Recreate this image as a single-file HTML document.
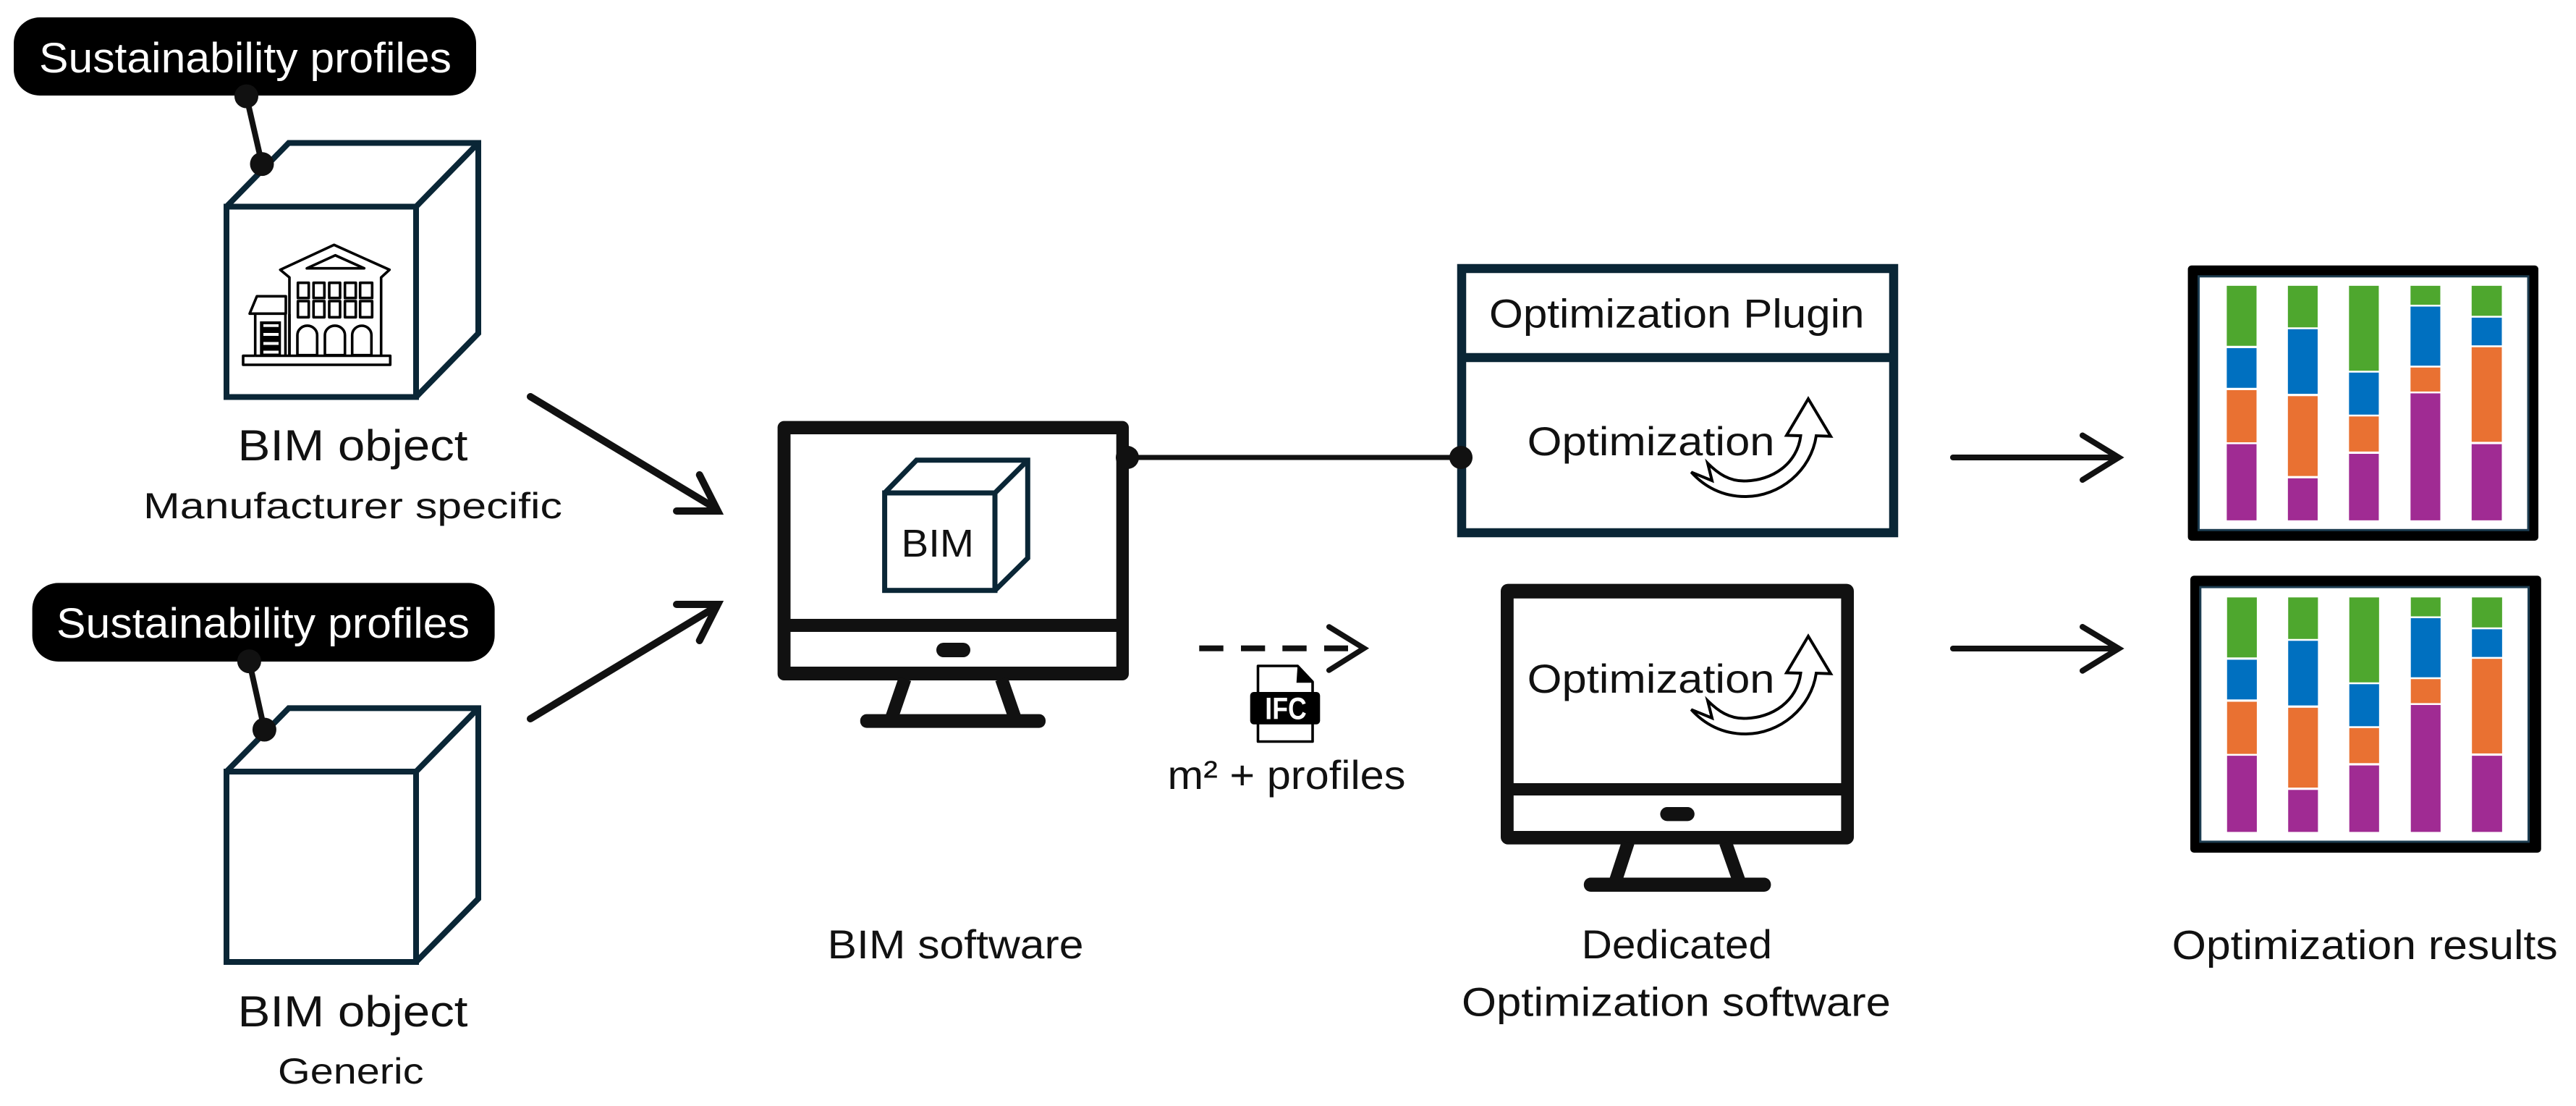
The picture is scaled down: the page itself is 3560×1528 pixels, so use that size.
<!DOCTYPE html>
<html lang="en">
<head>
<meta charset="utf-8">
<title>BIM optimization workflow</title>
<style>
html,body{margin:0;padding:0;background:#fff;}
svg{display:block;}
text{font-family:"Liberation Sans",sans-serif;fill:#111;}
</style>
</head>
<body>
<svg xmlns="http://www.w3.org/2000/svg" width="3560" height="1528" viewBox="0 0 3560 1528">
<rect width="3560" height="1528" fill="#fff"/>

<!-- Top-left pill -->
<rect x="19" y="24" width="639" height="108" rx="36" fill="#000"/>
<text x="54" y="100" font-size="58" textLength="570" lengthAdjust="spacingAndGlyphs" style="fill:#fff">Sustainability profiles</text>
<line x1="340.5" y1="133" x2="362" y2="226.6" stroke="#111" stroke-width="8"/>

<!-- Cube 1 -->
<g fill="none" stroke="#0a2636" stroke-width="8" stroke-linejoin="miter">
<rect x="313" y="285.5" width="262" height="263"/>
<path d="M313,285.5 L399,197.5 H661 V460.5 L575,548.5 M575,285.5 L661,197.5"/>
</g>
<circle cx="340.5" cy="133" r="16.5" fill="#111"/>
<circle cx="362" cy="226.6" r="16.5" fill="#111"/>

<!-- Building icon -->
<g fill="none" stroke="#000" stroke-width="3.6" stroke-linejoin="round">
<path d="M400,491 V383.3 L387.3,372.7 L461.7,338.3 L538.3,372.7 L526.7,383.3 V491"/>
<path d="M463.3,352.7 L503.3,370.7 H424 Z"/>
<path d="M352.7,491.5 H336 V504 H539.3 V491.5 H524"/>
<line x1="352.7" y1="491.5" x2="524" y2="491.5"/>
<rect x="411.7" y="390.7" width="15" height="21"/><rect x="433.3" y="390.7" width="15" height="21"/><rect x="455" y="390.7" width="15" height="21"/><rect x="476.7" y="390.7" width="15" height="21"/><rect x="497.7" y="390.7" width="16.6" height="21"/>
<rect x="411.7" y="416" width="15" height="22.3"/><rect x="433.3" y="416" width="15" height="22.3"/><rect x="455" y="416" width="15" height="22.3"/><rect x="476.7" y="416" width="15" height="22.3"/><rect x="497.7" y="416" width="16.6" height="22.3"/>
<path d="M411,490.7 V463 a13.6,13 0 0 1 27.3,0 V490.7 Z"/>
<path d="M449,490.7 V463 a13.8,13 0 0 1 27.7,0 V490.7 Z"/>
<path d="M486.7,490.7 V463 a13.3,13 0 0 1 26.6,0 V490.7 Z"/>
<path d="M355,409.3 H395 V433.3 H345 Z"/>
<path d="M352.7,434 V491.5 M394.5,434 V491.5 M400,434 V491.5"/>
</g>
<rect x="359.3" y="444" width="29" height="47" fill="#000"/>
<g fill="#fff"><rect x="364" y="448" width="21" height="3.7"/><rect x="364" y="460" width="21" height="4"/><rect x="364" y="472.5" width="21" height="4"/><rect x="364" y="484.5" width="21" height="4"/></g>

<text x="328.5" y="636" font-size="60" textLength="318" lengthAdjust="spacingAndGlyphs">BIM object</text>
<text x="198" y="716" font-size="50" textLength="579" lengthAdjust="spacingAndGlyphs">Manufacturer specific</text>

<!-- Lower-left pill -->
<rect x="44.6" y="805.4" width="639" height="108.6" rx="36" fill="#000"/>
<text x="78" y="881" font-size="58" textLength="571" lengthAdjust="spacingAndGlyphs" style="fill:#fff">Sustainability profiles</text>
<line x1="344.4" y1="913.6" x2="365.4" y2="1008" stroke="#111" stroke-width="8"/>

<!-- Cube 2 -->
<g fill="none" stroke="#0a2636" stroke-width="8">
<rect x="313" y="1066" width="262" height="263"/>
<path d="M313,1066 L399,978.4 H661 V1241.6 L575,1329 M575,1066 L661,978.4"/>
</g>
<circle cx="344.4" cy="913.6" r="16.5" fill="#111"/>
<circle cx="365.4" cy="1008" r="16.5" fill="#111"/>

<text x="328.5" y="1418" font-size="60" textLength="318" lengthAdjust="spacingAndGlyphs">BIM object</text>
<text x="384" y="1497" font-size="50" textLength="201.5" lengthAdjust="spacingAndGlyphs">Generic</text>

<!-- Input arrows -->
<g fill="none" stroke="#111" stroke-width="10" stroke-linecap="round" stroke-linejoin="miter">
<path d="M733,548 L990,703"/>
<path d="M966.7,656 L992,706 L935,706"/>
<path d="M733,993 L990,838"/>
<path d="M966.7,885 L992,835 L935,835"/>
</g>

<!-- BIM monitor -->
<rect x="1074.6" y="581.6" width="485.4" height="358.4" rx="9" fill="#111"/>
<rect x="1092.5" y="600" width="450.2" height="255" fill="#fff"/>
<rect x="1092.5" y="873" width="450.2" height="48" fill="#fff"/>
<rect x="1294" y="888" width="47" height="20" rx="10" fill="#111"/>
<path d="M1250.6,938 L1232.8,990 M1384,938 L1402,990" stroke="#111" stroke-width="18" fill="none"/>
<rect x="1188.8" y="986.6" width="256.2" height="19" rx="9" fill="#111"/>

<g fill="none" stroke="#0a2636" stroke-width="7">
<rect x="1222.6" y="681" width="152.4" height="134.7"/>
<path d="M1222.6,681 L1266.6,635.8 H1420.3 V771 L1375,815.7 M1375,681 L1420.3,635.8"/>
</g>
<text x="1245.5" y="769" font-size="54" textLength="100.5" lengthAdjust="spacingAndGlyphs">BIM</text>
<text x="1143.5" y="1324" font-size="56" textLength="354" lengthAdjust="spacingAndGlyphs">BIM software</text>

<!-- Connector -->
<line x1="1558" y1="632" x2="2019" y2="632" stroke="#111" stroke-width="7"/>
<circle cx="1558" cy="632" r="16" fill="#111"/>

<!-- Dashed arrow + IFC -->
<g fill="#111">
<rect x="1657.3" y="891.7" width="33.4" height="8"/><rect x="1715" y="891.7" width="33.3" height="8"/><rect x="1772.3" y="891.7" width="33.4" height="8"/><rect x="1830" y="891.7" width="33" height="8"/>
</g>
<path d="M1836.7,866 L1885,895.7 L1836.7,926" fill="none" stroke="#111" stroke-width="7.5" stroke-linecap="round" stroke-linejoin="miter"/>

<path d="M1738.5,920 H1793.3 L1814,942 V1024.5 H1738.5 Z" fill="#fff" stroke="#000" stroke-width="3.6" stroke-linejoin="round"/>
<path d="M1793.3,918.3 L1815,943.3 H1791.7 Z" fill="#000"/>
<rect x="1727.7" y="956" width="96.6" height="44.7" rx="5" fill="#000"/>
<text x="1748.3" y="993.3" font-size="43" font-weight="700" textLength="57.4" lengthAdjust="spacingAndGlyphs" style="fill:#fff">IFC</text>
<text x="1613.5" y="1090" font-size="56" textLength="329" lengthAdjust="spacingAndGlyphs">m² + profiles</text>

<!-- Optimization plugin box -->
<rect x="2020" y="371" width="597" height="365" fill="#fff" stroke="#0a2636" stroke-width="12.5"/>
<line x1="2014" y1="494" x2="2623" y2="494" stroke="#0a2636" stroke-width="12.5"/>
<circle cx="2019" cy="632" r="16" fill="#111"/>
<text x="2058" y="452.7" font-size="56" textLength="518.5" lengthAdjust="spacingAndGlyphs">Optimization Plugin</text>
<text x="2110.7" y="629" font-size="56" textLength="341.8" lengthAdjust="spacingAndGlyphs">Optimization</text>
<path d="M2499,551 L2530,602.7 L2510,602 C2503,650 2460,686 2412,686 C2380,686 2355,672 2337.3,652.3 L2366,664 L2360,640 C2375,655 2390,664.5 2410,664.5 C2450,664.5 2484,640 2488.5,602 L2469,601.5 Z" fill="none" stroke="#000" stroke-width="4" stroke-linejoin="miter"/>

<!-- Dedicated monitor -->
<rect x="2074" y="806.6" width="488" height="360" rx="10" fill="#111"/>
<rect x="2091.8" y="826.8" width="452.6" height="255.2" fill="#fff"/>
<rect x="2091.8" y="1099" width="452.6" height="49" fill="#fff"/>
<rect x="2294.4" y="1115" width="47.4" height="19.4" rx="9.7" fill="#111"/>
<path d="M2250,1164 L2233,1216 M2384.7,1164 L2403,1216" stroke="#111" stroke-width="18" fill="none"/>
<rect x="2188.8" y="1212.5" width="258.6" height="19.5" rx="9.5" fill="#111"/>
<text x="2110.7" y="956.8" font-size="56" textLength="341.8" lengthAdjust="spacingAndGlyphs">Optimization</text>
<path d="M2499,551 L2530,602.7 L2510,602 C2503,650 2460,686 2412,686 C2380,686 2355,672 2337.3,652.3 L2366,664 L2360,640 C2375,655 2390,664.5 2410,664.5 C2450,664.5 2484,640 2488.5,602 L2469,601.5 Z" transform="translate(0,328)" fill="none" stroke="#000" stroke-width="4"/>
<text x="2185.7" y="1324" font-size="56" textLength="263.3" lengthAdjust="spacingAndGlyphs">Dedicated</text>
<text x="2020" y="1403.5" font-size="56" textLength="593" lengthAdjust="spacingAndGlyphs">Optimization software</text>

<!-- Output arrows -->
<g fill="none" stroke="#111" stroke-width="8" stroke-linecap="round" stroke-linejoin="miter">
<path d="M2699,632 H2925"/>
<path d="M2878,601.5 L2928,632 L2878,663"/>
<path d="M2699,896 H2925"/>
<path d="M2878,866 L2928,896 L2878,926.7"/>
</g>

<!-- Chart 1 -->
<rect x="3023.6" y="366.8" width="484.4" height="380.2" rx="5" fill="#000"/>
<rect x="3038.5" y="381.8" width="455.5" height="350.5" fill="#fff" stroke="#1c3c50" stroke-width="3"/>
<g transform="translate(2700,340) scale(0.5485,0.6378)">
<g fill="#4ea72e"><rect x="688" y="86" width="75" height="130"/><rect x="842" y="86" width="75" height="90"/><rect x="996" y="86" width="75" height="184"/><rect x="1151" y="86" width="75" height="41"/><rect x="1305" y="86" width="76" height="65"/></g>
<g fill="#0070c0"><rect x="688" y="221" width="75" height="86"/><rect x="842" y="180" width="75" height="140"/><rect x="996" y="274" width="75" height="91"/><rect x="1151" y="131" width="75" height="128"/><rect x="1305" y="155" width="76" height="60"/></g>
<g fill="#e97132"><rect x="688" y="312" width="75" height="113"/><rect x="842" y="325" width="75" height="173"/><rect x="996" y="369" width="75" height="76"/><rect x="1151" y="263" width="75" height="52"/><rect x="1305" y="219" width="76" height="205"/></g>
<g fill="#a02b93"><rect x="688" y="429" width="75" height="165"/><rect x="842" y="503" width="75" height="91"/><rect x="996" y="450" width="75" height="144"/><rect x="1151" y="319" width="75" height="275"/><rect x="1305" y="429" width="76" height="165"/></g>
</g>

<!-- Chart 2 -->
<rect x="3027" y="795.4" width="484.8" height="382.6" rx="5" fill="#000"/>
<rect x="3040.8" y="811.1" width="453.7" height="351.8" fill="#fff" stroke="#1c3c50" stroke-width="3"/>
<g transform="translate(2700.4,770.5) scale(0.5485,0.6378)">
<g fill="#4ea72e"><rect x="688" y="86" width="75" height="130"/><rect x="842" y="86" width="75" height="90"/><rect x="996" y="86" width="75" height="184"/><rect x="1151" y="86" width="75" height="41"/><rect x="1305" y="86" width="76" height="65"/></g>
<g fill="#0070c0"><rect x="688" y="221" width="75" height="86"/><rect x="842" y="180" width="75" height="140"/><rect x="996" y="274" width="75" height="91"/><rect x="1151" y="131" width="75" height="128"/><rect x="1305" y="155" width="76" height="60"/></g>
<g fill="#e97132"><rect x="688" y="312" width="75" height="113"/><rect x="842" y="325" width="75" height="173"/><rect x="996" y="369" width="75" height="76"/><rect x="1151" y="263" width="75" height="52"/><rect x="1305" y="219" width="76" height="205"/></g>
<g fill="#a02b93"><rect x="688" y="429" width="75" height="165"/><rect x="842" y="503" width="75" height="91"/><rect x="996" y="450" width="75" height="144"/><rect x="1151" y="319" width="75" height="275"/><rect x="1305" y="429" width="76" height="165"/></g>
</g>

<text x="3001.7" y="1325" font-size="57" textLength="533" lengthAdjust="spacingAndGlyphs">Optimization results</text>
</svg>
</body>
</html>
